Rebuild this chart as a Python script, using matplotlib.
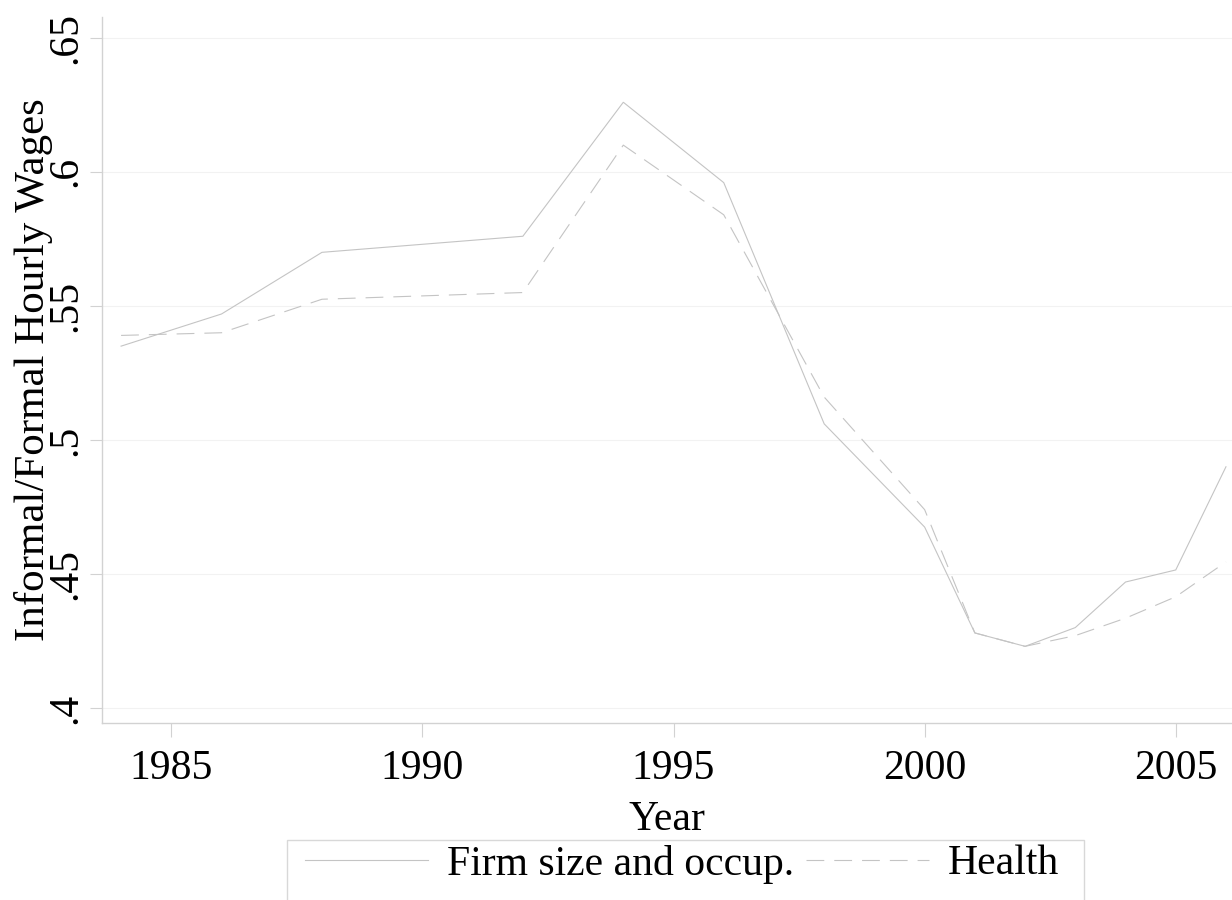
import matplotlib
matplotlib.use("Agg")
import matplotlib.pyplot as plt
from matplotlib.patches import Rectangle

years = [1984, 1986, 1988, 1992, 1994, 1996, 1998, 2000, 2001, 2002, 2003, 2004, 2005, 2006]
firm_size_occup = [0.535, 0.547, 0.570, 0.576, 0.626, 0.596, 0.506, 0.4675, 0.428, 0.423, 0.430, 0.447, 0.4515, 0.490]
health = [0.539, 0.540, 0.5525, 0.555, 0.610, 0.584, 0.516, 0.474, 0.428, 0.423, 0.427, 0.4335, 0.4415, 0.4545]

y_ticks = [0.4, 0.45, 0.5, 0.55, 0.6, 0.65]
y_tick_labels = [".4", ".45", ".5", ".55", ".6", ".65"]
x_ticks = [1985, 1990, 1995, 2000, 2005]
x_tick_labels = ["1985", "1990", "1995", "2000", "2005"]

W, H = 1232, 900
plt.rcParams["font.family"] = ["Liberation Serif", "DejaVu Serif"]
fig = plt.figure(figsize=(W / 100, H / 100), dpi=100)
ax = fig.add_axes([102 / W, (H - 723) / H, (W - 102) / W, (723 - 17) / H])

line_col = "#c4c4c4"
l1, = ax.plot(years, firm_size_occup, color=line_col, lw=0.8, solid_joinstyle="miter",
              label="Firm size and occup.")
l2, = ax.plot(years, health, color=line_col, lw=0.8, dashes=(16, 9),
              label="Health")

ax.set_xlim(1983.62, 2006.12)
ax.set_ylim(0.3944, 0.6578)

ax.set_yticks(y_ticks)
ax.set_yticklabels(y_tick_labels, rotation=90, va="center", fontsize=30)
ax.set_xticks(x_ticks)
ax.set_xticklabels(x_tick_labels, fontsize=30)

for yt in y_ticks:
    ax.axhline(yt, color="#f2f2f2", lw=0.8, zorder=0)

for s in ["top", "right"]:
    ax.spines[s].set_visible(False)
for s in ["left", "bottom"]:
    ax.spines[s].set_color("#d2d2d2")
    ax.spines[s].set_linewidth(1.0)

ax.tick_params(axis="y", length=9, color="#d2d2d2", width=0.8, pad=3)
ax.tick_params(axis="x", length=10, color="#d2d2d2", width=0.8, pad=9)

ax.set_xlabel("Year", fontsize=30, labelpad=0)
ax.set_ylabel("Informal/Formal Hourly Wages", fontsize=31)
ax.yaxis.set_label_coords(-(102 - 34) / (W - 102), 0.5)
ax.xaxis.set_label_coords(0.5, -(820 - 723) / (723 - 17))
ax.xaxis.label.set_va("center")
ax.yaxis.label.set_va("center")

leg = fig.legend(handles=[l1, l2], loc="center left", ncol=2,
                 bbox_to_anchor=(276 / W, 1 - 864 / H), frameon=False,
                 fontsize=30, handlelength=2.95, handletextpad=0.45,
                 columnspacing=0.3, borderpad=0.2)
fig.add_artist(Rectangle((287 / W, -0.05), (1084 - 287) / W, 0.05 + (900 - 840) / H,
                         transform=fig.transFigure, fill=False,
                         edgecolor="#d8d8d8", lw=1.0, clip_on=False))

fig.savefig("out.png", dpi=100, facecolor="white")
